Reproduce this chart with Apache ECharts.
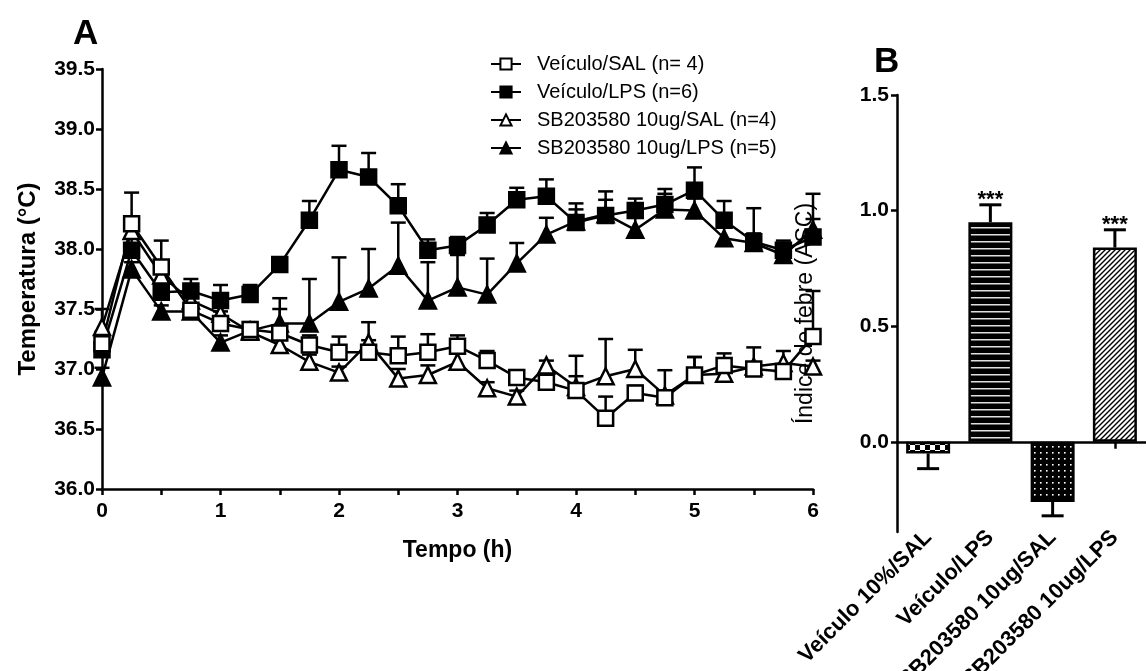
<!DOCTYPE html>
<html><head><meta charset="utf-8">
<script src="https://cdn.jsdelivr.net/npm/echarts@6/dist/echarts.min.js"></script>
<style>html,body{margin:0;padding:0;background:#fff}#c{width:1146px;height:671px}</style>
</head><body><div id="c"></div>
<script>
// ---------- DATA ----------
const times = [0,0.25,0.5,0.75,1,1.25,1.5,1.75,2,2.25,2.5,2.75,3,3.25,3.5,3.75,4,4.25,4.5,4.75,5,5.25,5.5,5.75,6];
const xTickLabelsA = [0,1,2,3,4,5,6];
const yTicksA = [36.0,36.5,37.0,37.5,38.0,38.5,39.0,39.5];
const seriesNames = ['Veículo/SAL (n= 4)','Veículo/LPS (n=6)','SB203580 10ug/SAL (n=4)','SB203580 10ug/LPS (n=5)'];

const vehSal    = [37.21,38.21,37.85,37.49,37.38,37.33,37.30,37.20,37.14,37.14,37.11,37.14,37.19,37.07,36.93,36.89,36.82,36.59,36.80,36.76,36.95,37.03,37.00,36.98,37.27];
const vehSalErr = [0.10,0.26,0.22,0.05,0.10,0.06,0.29,0.08,0.13,0.10,0.16,0.15,0.09,0.08,0.06,0.06,0.12,0.18,0.06,0.05,0.15,0.10,0.05,0.05,0.38];

const vehLps    = [37.16,37.99,37.64,37.65,37.57,37.62,37.87,38.24,38.66,38.60,38.36,37.99,38.03,38.20,38.41,38.44,38.22,38.28,38.32,38.37,38.49,38.24,38.06,37.99,38.10];
const vehLpsErr = [0.08,0.10,0.08,0.10,0.13,0.08,0.03,0.16,0.20,0.20,0.18,0.09,0.07,0.10,0.10,0.14,0.16,0.20,0.10,0.13,0.19,0.16,0.28,0.08,0.15];

const sbSal     = [37.35,38.15,37.78,37.57,37.46,37.31,37.20,37.06,36.97,37.22,36.92,36.95,37.06,36.84,36.77,37.03,36.85,36.94,37.00,36.78,36.95,36.96,37.02,37.05,37.02];
const sbSalErr  = [0.15,0.05,0.06,0.05,0.06,0.08,0.10,0.06,0.05,0.17,0.08,0.08,0.07,0.05,0.05,0.04,0.26,0.31,0.16,0.21,0.15,0.12,0.16,0.10,0.05];

const sbLps     = [36.93,37.83,37.48,37.48,37.22,37.32,37.38,37.38,37.56,37.67,37.86,37.57,37.68,37.62,37.88,38.12,38.23,38.29,38.16,38.33,38.32,38.09,38.05,37.95,38.16];
const sbLpsErr  = [0.08,0.06,0.05,0.05,0.06,0.06,0.12,0.37,0.37,0.33,0.36,0.32,0.27,0.30,0.17,0.14,0.10,0.12,0.10,0.13,0.10,0.10,0.08,0.10,0.30];

const categoriesB = ['Veículo 10%/SAL','Veículo/LPS','SB203580 10ug/SAL','SB203580 10ug/LPS'];
const feverIndex  = [-0.05, 0.95, -0.26, 0.84];
const feverErr    = [0.066, 0.075, 0.06, 0.077];
const feverStars  = ['', '***', '', '***'];
const yTicksB     = [0, 0.5, 1.0, 1.5];

// ---------- STYLE HELPERS ----------
const FONT = "'Liberation Sans', Arial, sans-serif";

function pattern(kind){
  const c = document.createElement('canvas');
  let s;
  const g = (w,h)=>{c.width=w;c.height=h;return c.getContext('2d');};
  if(kind==='checker'){
    s=10; const x=g(s,s); x.fillStyle='#fff'; x.fillRect(0,0,s,s); x.fillStyle='#000';
    x.fillRect(0,0,s/2,s/2); x.fillRect(s/2,s/2,s/2,s/2);
  } else if(kind==='hstripe'){
    const x=g(4,7); x.fillStyle='#000'; x.fillRect(0,0,4,7); x.fillStyle='#e0e0e0'; x.fillRect(0,3,4,1.5);
  } else if(kind==='dots'){
    const x=g(6,6); x.fillStyle='#000'; x.fillRect(0,0,6,6); x.fillStyle='#fff'; x.fillRect(2,2,1.6,1.6);
  } else {
    s=5; const x=g(s,s); x.fillStyle='#fff'; x.fillRect(0,0,s,s); x.strokeStyle='#000'; x.lineWidth=1.4;
    x.beginPath(); x.moveTo(0,s); x.lineTo(s,0); x.moveTo(-1,1); x.lineTo(1,-1); x.moveTo(s-1,s+1); x.lineTo(s+1,s-1); x.stroke();
  }
  return {image:c, repeat:'repeat'};
}
const barFills = [pattern('checker'), pattern('hstripe'), pattern('dots'), pattern('diag')];

function lineSeries(name, vals, symbol, filled, size){
  return {
    type:'line', name, xAxisIndex:0, yAxisIndex:0,
    data: times.map((t,i)=>[t, vals[i]]),
    symbol, symbolSize:size, showAllSymbol:true,
    lineStyle:{color:'#000', width:2.5},
    itemStyle:{color: filled ? '#000' : '#fff', borderColor:'#000', borderWidth:2.5},
    emphasis:{disabled:true}, z:3, animation:false
  };
}
function errSeriesA(name, vals, errs){
  return {
    type:'custom', name: name+' err', xAxisIndex:0, yAxisIndex:0, z:2, silent:true, animation:false,
    data: times.map((t,i)=>[t, vals[i], vals[i]+errs[i]]),
    renderItem(params, api){
      const p0 = api.coord([api.value(0), api.value(1)]);
      const p1 = api.coord([api.value(0), api.value(2)]);
      const w = 7.5;
      return {type:'group', children:[
        {type:'line', shape:{x1:p0[0],y1:p0[1],x2:p1[0],y2:p1[1]}, style:{stroke:'#000', lineWidth:2.5}},
        {type:'line', shape:{x1:p1[0]-w,y1:p1[1],x2:p1[0]+w,y2:p1[1]}, style:{stroke:'#000', lineWidth:2.5}}
      ]};
    }
  };
}

const chart = echarts.init(document.getElementById('c'), null, {renderer:'canvas'});
const axisLine = {show:true, lineStyle:{color:'#000', width:2.5}};
const tickStyle = {show:true, length:6, lineStyle:{color:'#000', width:2.5}};
const tickLabel = {color:'#000', fontSize:21, fontWeight:'bold', fontFamily:FONT};

chart.setOption({
  backgroundColor:'#fff',
  animation:false,
  textStyle:{fontFamily:FONT},
  title:[
    {text:'A', left:68, top:12, textStyle:{fontSize:35, fontWeight:'bold', color:'#000', fontFamily:FONT}},
    {text:'B', left:869, top:40, textStyle:{fontSize:35, fontWeight:'bold', color:'#000', fontFamily:FONT}}
  ],
  legend:{
    data: seriesNames, orient:'vertical', left:485, top:49, itemGap:8,
    itemWidth:30, itemHeight:14,
    textStyle:{fontSize:20, color:'#000', fontFamily:FONT, padding:[0,0,0,11]},
    selectedMode:false
  },
  grid:[
    {left:102, top:69, width:711, height:420, containLabel:false, outerBoundsMode:'none'},
    {left:897, top:95, width:249, height:437, containLabel:false, outerBoundsMode:'none'}
  ],
  xAxis:[
    {type:'value', gridIndex:0, min:0, max:6, interval:0.5,
     axisLine, axisTick:tickStyle, splitLine:{show:false},
     axisLabel:{...tickLabel, margin:12, formatter:v => xTickLabelsA.includes(v) ? String(v) : ''},
     name:'Tempo (h)', nameLocation:'middle', nameGap:50,
     nameTextStyle:{fontSize:23, fontWeight:'bold', color:'#000', fontFamily:FONT}},
    {type:'category', gridIndex:1, data:categoriesB, position:'bottom',
     axisLine:{...axisLine, onZero:true}, axisTick:{...tickStyle, alignWithLabel:true, inside:false, length:7},
     axisLabel:{show:false}, splitLine:{show:false}},
    {type:'category', gridIndex:1, data:categoriesB, position:'bottom',
     axisLine:{show:false, onZero:false}, axisTick:{show:false},
     axisLabel:{...tickLabel, fontSize:22, rotate:45, margin:2, interval:0}}
  ],
  yAxis:[
    {type:'value', gridIndex:0, min:36, max:39.5, interval:0.5,
     axisLine, axisTick:tickStyle, splitLine:{show:false},
     axisLabel:{...tickLabel, margin:7, formatter:v=>v.toFixed(1)},
     name:'Temperatura (°C)', nameLocation:'middle', nameGap:62,
     nameTextStyle:{fontSize:24, fontWeight:'bold', color:'#000', fontFamily:FONT}},
    {type:'value', gridIndex:1, min:-0.39, max:1.5,
     axisLine:{...axisLine, onZero:false}, axisTick:{...tickStyle, customValues:yTicksB}, splitLine:{show:false},
     axisLabel:{...tickLabel, margin:8, customValues:yTicksB, formatter:v=>v.toFixed(1)},
     name:'Índice de febre (ASC)', nameLocation:'middle', nameGap:80,
     nameTextStyle:{fontSize:23, fontWeight:'normal', color:'#000', fontFamily:FONT}}
  ],
  series:[
    errSeriesA(seriesNames[0], vehSal, vehSalErr),
    errSeriesA(seriesNames[1], vehLps, vehLpsErr),
    errSeriesA(seriesNames[2], sbSal, sbSalErr),
    errSeriesA(seriesNames[3], sbLps, sbLpsErr),
    lineSeries(seriesNames[3], sbLps, 'triangle', true, 16),
    lineSeries(seriesNames[2], sbSal, 'triangle', false, 16),
    lineSeries(seriesNames[1], vehLps, 'rect', true, 15),
    lineSeries(seriesNames[0], vehSal, 'rect', false, 15),
    {type:'bar', name:'Índice de febre', xAxisIndex:1, yAxisIndex:1, barWidth:44, animation:false,
     data: feverIndex.map((v,i)=>({value:v, itemStyle:{color:barFills[i], borderColor:'#000', borderWidth:2.5}})),
     emphasis:{disabled:true}, z:2},
    {type:'custom', name:'febre err', xAxisIndex:1, yAxisIndex:1, z:3, silent:true, animation:false,
     data: feverIndex.map((v,i)=>[i, v, v + (v<0?-1:1)*feverErr[i]]),
     renderItem(params, api){
       const p0 = api.coord([api.value(0), api.value(1)]);
       const p1 = api.coord([api.value(0), api.value(2)]);
       const w = 11;
       const ch = [
         {type:'line', shape:{x1:p0[0],y1:p0[1],x2:p1[0],y2:p1[1]}, style:{stroke:'#000', lineWidth:3}},
         {type:'line', shape:{x1:p1[0]-w,y1:p1[1],x2:p1[0]+w,y2:p1[1]}, style:{stroke:'#000', lineWidth:3}}
       ];
       const star = feverStars[params.dataIndex];
       if(star){
         ch.push({type:'text', x:p1[0], y:p1[1]-5, style:{text:star, align:'center', verticalAlign:'middle',
           font:"bold 22px 'Liberation Sans', Arial, sans-serif", fill:'#000'}});
       }
       return {type:'group', children:ch};
     }}
  ]
});
</script></body></html>
